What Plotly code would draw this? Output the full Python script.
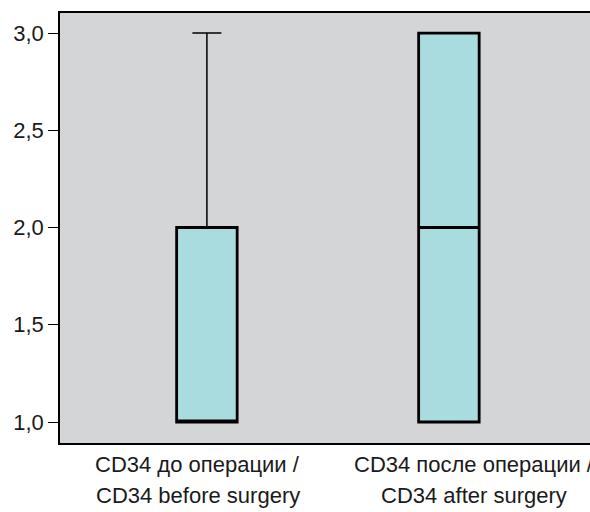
import plotly.graph_objects as go

# Data
categories = ["before", "after"]
q1_vals = [1.0, 1.0]
median_vals = [1.0, 2.0]
q3_vals = [2.0, 3.0]
lower_vals = [1.0, 1.0]
upper_vals = [3.0, 3.0]
label_line1 = ["CD34 до операции /", "CD34 после операции /"]
label_line2 = ["CD34 before surgery", "CD34 after surgery"]
y_ticks = [1.0, 1.5, 2.0, 2.5, 3.0]

FONT = "Liberation Sans, Arial, sans-serif"
FS = 22

fig = go.Figure()
# thin whiskers
fig.add_trace(go.Box(
    x=categories,
    q1=q1_vals, median=median_vals, q3=q3_vals,
    lowerfence=lower_vals, upperfence=upper_vals,
    width=0.25, whiskerwidth=0.48,
    fillcolor="#a9dcdf",
    line=dict(color="#000000", width=1.5),
    boxpoints=False, showlegend=False, hoverinfo="skip",
))
# thick box outline (fences collapsed onto the box)
fig.add_trace(go.Box(
    x=categories,
    q1=q1_vals, median=median_vals, q3=q3_vals,
    lowerfence=q1_vals, upperfence=q3_vals,
    width=0.25, whiskerwidth=0,
    fillcolor="#a9dcdf",
    line=dict(color="#000000", width=2.8),
    boxpoints=False, showlegend=False, hoverinfo="skip",
))

label_x = [0.260, 0.781]
annotations = []
for i in range(len(categories)):
    annotations.append(dict(
        x=label_x[i], y=-0.050, xref="paper", yref="paper",
        text=label_line1[i], showarrow=False, xanchor="center", yanchor="middle",
        font=dict(family=FONT, size=FS, color="#1a1a1a"),
    ))
    annotations.append(dict(
        x=label_x[i], y=-0.122, xref="paper", yref="paper",
        text=label_line2[i], showarrow=False, xanchor="center", yanchor="middle",
        font=dict(family=FONT, size=FS, color="#1a1a1a"),
    ))

fig.update_layout(
    width=590, height=512,
    margin=dict(l=60, r=0, t=13, b=69),
    paper_bgcolor="#ffffff",
    plot_bgcolor="#d4d5d7",
    separators=", ",
    boxmode="overlay",
    font=dict(family=FONT, size=FS, color="#1a1a1a"),
    annotations=annotations,
    xaxis=dict(
        type="category",
        range=[-0.607, 1.583],
        showticklabels=False,
        ticks="",
        showline=True, mirror=True, linecolor="#000000", linewidth=1.5,
        showgrid=False, zeroline=False,
    ),
    yaxis=dict(
        range=[0.892, 3.103],
        tickvals=y_ticks,
        tickformat=".1f",
        ticks="outside", ticklen=10, tickcolor="#000000", tickwidth=1.2,
        showline=True, linecolor="#000000", linewidth=1.5,
        showgrid=False, zeroline=False,
        tickfont=dict(family=FONT, size=FS, color="#1a1a1a"),
    ),
)

fig.write_html("out.html")
